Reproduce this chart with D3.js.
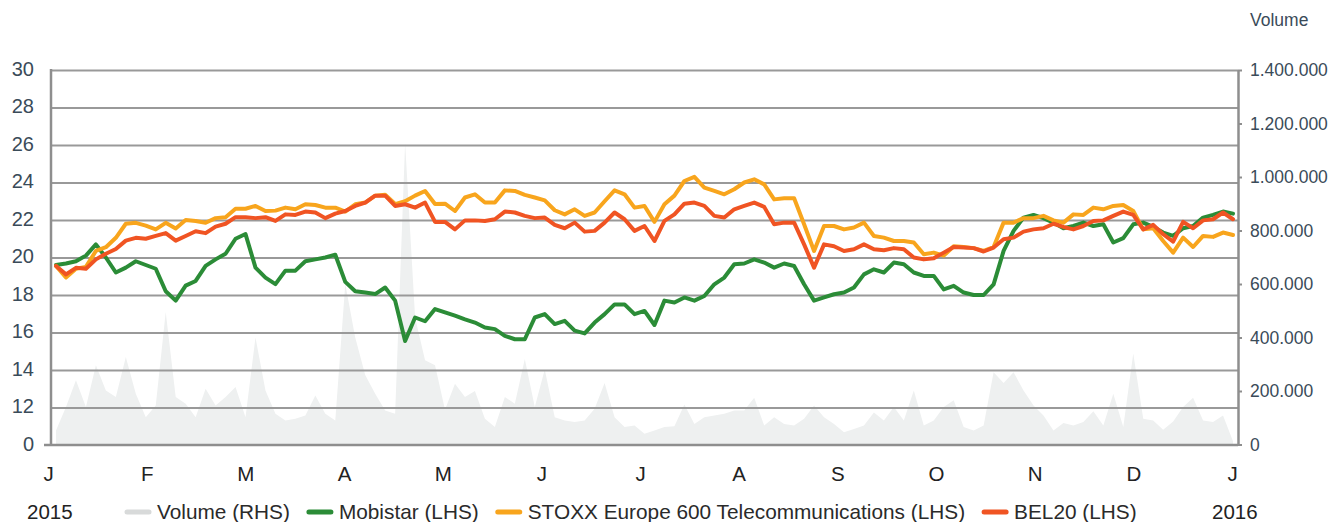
<!DOCTYPE html>
<html>
<head>
<meta charset="utf-8">
<script src="https://cdn.jsdelivr.net/npm/d3@7"></script>
<style>
  body { margin: 0; background: #fff; }
  text { font-family: "Liberation Sans", Arial, sans-serif; }
</style>
</head>
<body>
<div id="chart"></div>
<script>
// Werte je Handelstag-Stichprobe (ca. alle 2 Handelstage), 2015
const mobistar = [
  19.6, 19.68, 19.8, 20.1, 20.7, 20.0, 19.2, 19.46, 19.8, 19.6, 19.4, 18.2, 17.7, 18.5, 18.75, 19.55, 19.9, 20.2, 21.0, 21.25,
  19.46, 18.93, 18.58, 19.3, 19.3, 19.8, 19.9, 20.0, 20.15, 18.7, 18.2, 18.13, 18.05, 18.4, 17.7, 15.55, 16.8, 16.6, 17.25,
  17.07, 16.9, 16.7, 16.53, 16.27, 16.18, 15.82, 15.64, 15.64, 16.8, 16.98, 16.45, 16.62, 16.1, 15.95, 16.53, 16.98, 17.5, 17.5, 16.98,
  17.15, 16.4, 17.7, 17.6, 17.87, 17.7, 17.95, 18.57, 18.93, 19.64, 19.68, 19.9, 19.73, 19.46, 19.68, 19.55, 18.57, 17.7, 17.87,
  18.04, 18.13, 18.4, 19.1, 19.37, 19.2, 19.73, 19.64, 19.2, 19.02, 19.02, 18.3, 18.49, 18.13, 18.0, 18.0, 18.57, 20.35, 21.42, 22.13,
  22.27, 22.1, 21.86, 21.56, 21.68, 21.86, 21.68, 21.77, 20.8, 21.03, 21.77, 21.86, 21.63, 21.33, 21.15, 21.56, 21.68, 22.13, 22.27, 22.45, 22.34
];
const stoxx = [
  19.55, 18.93, 19.4, 19.5, 20.35, 20.55, 21.05, 21.8, 21.85, 21.7, 21.5, 21.85, 21.55, 22.0, 21.95, 21.85, 22.1, 22.15, 22.6, 22.6,
  22.75, 22.48, 22.5, 22.66, 22.57, 22.84, 22.8, 22.66, 22.66, 22.45, 22.84, 22.93, 23.3, 23.35, 22.85, 23.0, 23.3, 23.55, 22.85,
  22.87, 22.48, 23.2, 23.37, 22.93, 22.93, 23.58, 23.55, 23.34, 23.2, 23.05, 22.52, 22.3, 22.57, 22.22, 22.4, 23.0, 23.58, 23.37, 22.66,
  22.75, 21.9, 22.84, 23.3, 24.08, 24.3, 23.73, 23.55, 23.37, 23.64, 24.0, 24.17, 23.9, 23.1, 23.16, 23.16, 21.77, 20.35, 21.68,
  21.68, 21.5, 21.6, 21.86, 21.15, 21.06, 20.88, 20.88, 20.8, 20.17, 20.26, 20.1, 20.6, 20.56, 20.5, 20.35, 20.56, 21.86, 21.86, 22.1,
  22.1, 22.22, 21.98, 21.86, 22.3, 22.27, 22.66, 22.57, 22.75, 22.8, 22.48, 21.5, 21.56, 20.88, 20.26, 21.06, 20.56, 21.15, 21.1, 21.33, 21.2
];
const bel20 = [
  19.55, 19.1, 19.45, 19.4, 19.9, 20.2, 20.45, 20.9, 21.05, 21.0, 21.15, 21.3, 20.9, 21.15, 21.4, 21.3, 21.65, 21.8, 22.15, 22.15,
  22.1, 22.15, 21.95, 22.3, 22.27, 22.45, 22.4, 22.1, 22.34, 22.48, 22.75, 22.93, 23.3, 23.3, 22.75, 22.84, 22.66, 22.93, 21.9,
  21.9, 21.5, 21.98, 21.98, 21.95, 22.04, 22.45, 22.4, 22.22, 22.1, 22.13, 21.74, 21.56, 21.86, 21.38, 21.42, 21.86, 22.4, 22.04, 21.42,
  21.68, 20.88, 21.95, 22.3, 22.87, 22.93, 22.75, 22.22, 22.13, 22.57, 22.75, 22.93, 22.7, 21.77, 21.86, 21.86, 20.7, 19.46, 20.7,
  20.6, 20.35, 20.44, 20.7, 20.44, 20.39, 20.5, 20.44, 20.0, 19.9, 19.96, 20.26, 20.56, 20.53, 20.5, 20.32, 20.53, 20.97, 21.06, 21.38,
  21.5, 21.56, 21.8, 21.63, 21.5, 21.68, 21.95, 21.98, 22.22, 22.45, 22.27, 21.5, 21.74, 21.24, 20.85, 21.9, 21.56, 21.98, 22.04, 22.4, 22.04
];
// Volumen in Tausend Stück
const volume = [
  52, 140, 240, 140, 296, 202, 178, 327, 190, 102,
  146, 495, 178, 152, 102, 208, 146, 178, 215, 102,
  400, 202, 115, 90, 96, 108, 183, 115, 90, 600,
  400, 260, 190, 127, 115, 1127, 475, 315, 296, 130,
  227, 178, 200, 96, 65, 178, 152, 320, 140, 280,
  102, 90, 84, 90, 134, 230, 102, 65, 71, 40,
  52, 65, 68, 150, 77, 102, 108, 115, 127, 127,
  175, 71, 102, 77, 71, 96, 146, 102, 77, 46,
  58, 71, 120, 90, 140, 90, 202, 71, 90, 140,
  165, 65, 52, 71, 270, 230, 270, 202, 146, 108,
  52, 80, 71, 84, 124, 71, 190, 65, 340, 96,
  90, 55, 86, 140, 175, 90, 84, 108, 12
];

const months = ["J", "F", "M", "A", "M", "J", "J", "A", "S", "O", "N", "D", "J"];
const leftTicks = [10, 12, 14, 16, 18, 20, 22, 24, 26, 28, 30];
const volTicks = [0, 200, 400, 600, 800, 1000, 1200, 1400];

const series = [
  { name: "Mobistar (LHS)", values: mobistar, color: "#2b8c37" },
  { name: "STOXX Europe 600 Telecommunications (LHS)", values: stoxx, color: "#f8a51d" },
  { name: "BEL20 (LHS)", values: bel20, color: "#f05423" }
];
const legendItems = [{ name: "Volume (RHS)", color: "#d8dada" }].concat(series);

const width = 1334, height = 522;
const plotLeft = 51, plotRight = 1238, plotTop = 70, plotBottom = 445;
const textColor = "#3a4b59";
const axisColor = "#8e8e8e";

const x = d3.scaleLinear().domain([0, mobistar.length - 1]).range([56, 1233]);
const xm = d3.scalePoint().domain(d3.range(months.length)).range([48, 1232]);
const y = d3.scaleLinear().domain([10, 30]).range([plotBottom, plotTop]);
const yVol = d3.scaleLinear().domain([0, 1400]).range([plotBottom - 0.5, plotTop]);

const dotLocale = d3.formatLocale({ decimal: ",", thousands: ".", grouping: [3], currency: ["", ""] });
const fmtVol = dotLocale.format(",");

const svg = d3.select("#chart").append("svg")
  .attr("width", width)
  .attr("height", height)
  .attr("viewBox", [0, 0, width, height]);

// Volumenfläche
svg.append("path")
  .datum(volume)
  .attr("fill", "#eef0f0")
  .attr("d", d3.area()
    .x((d, i) => x(i))
    .y0(yVol(0))
    .y1(d => yVol(d)));

// Gitterlinien
svg.append("g")
  .attr("transform", `translate(${plotLeft},0)`)
  .call(d3.axisRight(y).tickValues(leftTicks.slice(1)).tickSize(plotRight - plotLeft).tickFormat(""))
  .call(g => g.select(".domain").remove())
  .call(g => g.selectAll("line").attr("stroke", "#999").attr("stroke-width", 2));

// Linke Achse
svg.append("g")
  .attr("transform", `translate(${plotLeft},0)`)
  .call(d3.axisLeft(y).tickValues(leftTicks).tickSize(0).tickPadding(17)
    .tickFormat(d => d === 10 ? "0" : d))
  .call(g => g.select(".domain").remove())
  .call(g => g.selectAll("text").attr("fill", textColor).attr("font-size", 20).attr("dy", "0.26em"));

svg.append("line")
  .attr("x1", plotLeft).attr("x2", plotLeft)
  .attr("y1", plotTop - 1).attr("y2", plotBottom)
  .attr("stroke", axisColor).attr("stroke-width", 2.5);

// Rechte Achse
svg.append("g")
  .attr("transform", `translate(${plotRight},0)`)
  .call(d3.axisRight(yVol).tickValues(volTicks).tickSize(4).tickSizeOuter(0).tickPadding(8)
    .tickFormat(d => fmtVol(d * 1000)))
  .call(g => g.select(".domain").attr("stroke", axisColor).attr("stroke-width", 2.5))
  .call(g => g.selectAll(".tick line").attr("stroke", axisColor).attr("stroke-width", 2))
  .call(g => g.selectAll("text").attr("fill", textColor).attr("font-size", 17.5));

svg.append("text")
  .attr("x", 1250).attr("y", 26)
  .attr("fill", textColor).attr("font-size", 17.5)
  .text("Volume");

// Grundlinie
svg.append("line")
  .attr("x1", 44).attr("x2", plotRight)
  .attr("y1", plotBottom).attr("y2", plotBottom)
  .attr("stroke", axisColor).attr("stroke-width", 2.5);

// Monatsachse
svg.append("g")
  .attr("transform", `translate(0,${plotBottom})`)
  .call(d3.axisBottom(xm).tickSize(0).tickPadding(21).tickFormat(i => months[i]))
  .call(g => g.select(".domain").remove())
  .call(g => g.selectAll("text").attr("fill", "#222").attr("font-size", 20.5));

// Linien
const line = d3.line().x((d, i) => x(i)).y(d => y(d));
svg.append("g")
  .selectAll("path")
  .data(series)
  .join("path")
  .attr("fill", "none")
  .attr("stroke", d => d.color)
  .attr("stroke-width", 4)
  .attr("stroke-linejoin", "round")
  .attr("stroke-linecap", "round")
  .attr("d", d => line(d.values));

// Jahreszahlen
svg.append("text").attr("x", 27).attr("y", 519).attr("fill", "#222").attr("font-size", 20.5).text("2015");
svg.append("text").attr("x", 1212).attr("y", 519).attr("fill", "#222").attr("font-size", 20.5).text("2016");

// Legende
let lx = 127;
const legend = svg.append("g");
legendItems.forEach(item => {
  legend.append("line")
    .attr("x1", lx).attr("x2", lx + 22)
    .attr("y1", 512).attr("y2", 512)
    .attr("stroke", item.color).attr("stroke-width", 5).attr("stroke-linecap", "round");
  const t = legend.append("text")
    .attr("x", lx + 30).attr("y", 519)
    .attr("fill", "#2a2a2a").attr("font-size", 20.8)
    .text(item.name);
  lx = lx + 30 + t.node().getComputedTextLength() + 19;
});
</script>
</body>
</html>
